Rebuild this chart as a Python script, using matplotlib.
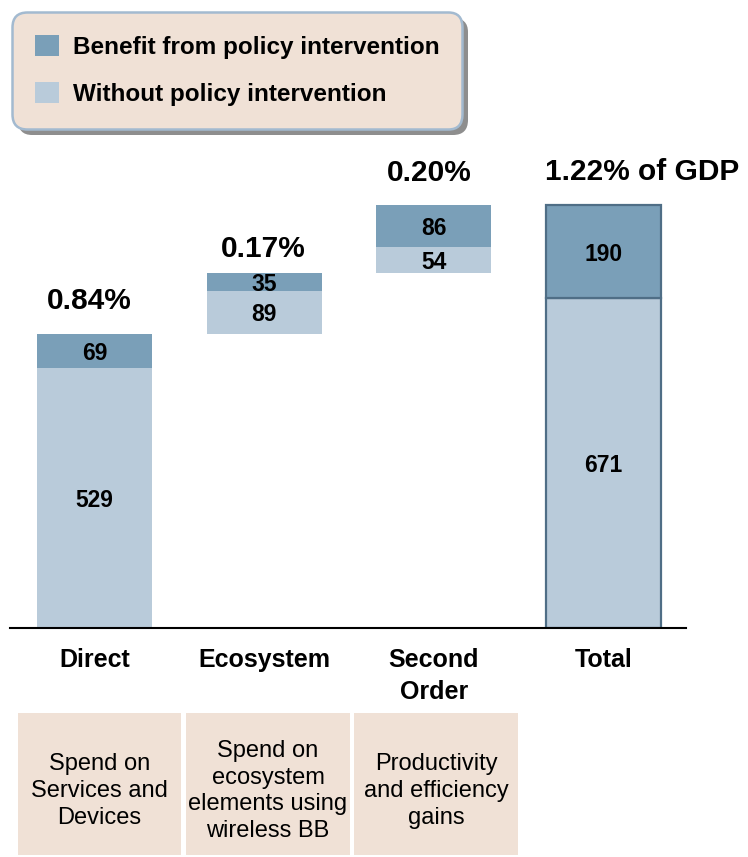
import matplotlib
matplotlib.use("Agg")
import matplotlib.pyplot as plt
from matplotlib.patches import Rectangle
import matplotlib.patheffects as pe
import numpy as np

plt.rcParams['font.family'] = ['Liberation Sans', 'DejaVu Sans']

# Data
categories = ["Direct", "Ecosystem", "Second\nOrder", "Total"]
without_policy = [529, 89, 54, 671]
policy_benefit = [69, 35, 86, 190]
gdp_share = ["0.84%", "0.17%", "0.20%", "1.22% of GDP"]
descriptions = [
    "Spend on\nServices and\nDevices",
    "Spend on\necosystem\nelements using\nwireless BB",
    "Productivity\nand efficiency\ngains",
]
legend_labels = ["Benefit from policy intervention", "Without policy intervention"]

DARK = "#7A9FB8"
LIGHT = "#B9CBDA"
EDGE = "#4F6E86"
BEIGE = "#F0E1D6"

W, H = 748, 857
fig = plt.figure(figsize=(W / 100, H / 100), dpi=100)
fig.patch.set_facecolor("white")

# axes placement in pixels (top-left origin)
ax_left, ax_right, ax_top, ax_base = 10, 686, 140, 627.5
ax = fig.add_axes([ax_left / W, 1 - ax_base / H,
                   (ax_right - ax_left) / W, (ax_base - ax_top) / H])

# waterfall bottoms: components stack on each other, total starts at zero
n = len(categories)
x = np.arange(n)
wo = np.array(without_policy)
bf = np.array(policy_benefit)
bottoms = np.zeros(n)
running = 0
for i in range(n - 1):
    bottoms[i] = running
    running += wo[i] + bf[i]
bottoms[-1] = 0

width = 0.678
edges = ["none"] * (n - 1) + [EDGE]
lws = [0] * (n - 1) + [1.6]
bars_wo = ax.bar(x, wo, width, bottom=bottoms, color=LIGHT,
                 edgecolor=edges, linewidth=lws, label=legend_labels[1], zorder=2)
bars_bf = ax.bar(x, bf, width, bottom=bottoms + wo, color=DARK,
                 edgecolor=edges, linewidth=lws, label=legend_labels[0], zorder=2)

for cont in (bars_wo, bars_bf):
    for t in ax.bar_label(cont, label_type="center", fontsize=16.5,
                          fontweight="bold", color="black"):
        t.set_va("center_baseline")

# share-of-GDP labels above each bar
tops = bottoms + wo + bf
dx_px = [-5, -1, -4, 39]
dy_px = [25, 16, 24, 25]
for i in range(n):
    ax.annotate(gdp_share[i], (x[i], tops[i]),
                xytext=(dx_px[i] * 0.72, dy_px[i] * 0.72), textcoords="offset points",
                ha="center", va="baseline", fontsize=21.5, fontweight="bold",
                annotation_clip=False)

spacing = 169.6
xl = -(94.5 - ax_left) / spacing
ax.set_xlim(xl, xl + (ax_right - ax_left) / spacing)
ax.set_ylim(0, (ax_base - ax_top) / 0.4905)

for s in ("top", "right", "left"):
    ax.spines[s].set_visible(False)
ax.spines["bottom"].set_linewidth(1.5)
ax.spines["bottom"].set_color("black")
ax.set_yticks([])
ax.set_xticks(x, categories)
ax.tick_params(axis="x", length=0, pad=14.5)
for lab in ax.get_xticklabels():
    lab.set_fontsize(18)
    lab.set_fontweight("bold")
    lab.set_linespacing(1.46)
ax.patch.set_alpha(0)

# description boxes under the first three categories
box_x = [(17.7, 181), (186, 350), (354, 518)]
box_y = (713, 855)
for (x0, x1), txt in zip(box_x, descriptions):
    fig.add_artist(Rectangle((x0 / W, 1 - box_y[1] / H), (x1 - x0) / W,
                             (box_y[1] - box_y[0]) / H, transform=fig.transFigure,
                             facecolor=BEIGE, edgecolor="none"))
    fig.text((x0 + x1) / 2 / W, 1 - 791 / H, txt, ha="center", va="center",
             fontsize=17, linespacing=1.27)

# legend
leg = fig.legend(handles=[bars_bf, bars_wo], labels=legend_labels,
                 loc="upper left", bbox_to_anchor=(12 / W, 1 - 12 / H),
                 bbox_transform=fig.transFigure, borderaxespad=0,
                 prop={"size": 17.5, "weight": "bold"}, fancybox=True, shadow=False,
                 handlelength=1.0, handleheight=0.95, handletextpad=0.55,
                 labelspacing=0.95, borderpad=0.95, framealpha=1)
frame = leg.get_frame()
frame.set_facecolor(BEIGE)
frame.set_edgecolor("#A3BAD0")
frame.set_linewidth(1.8)
frame.set_boxstyle("round", pad=0, rounding_size=0.6)
frame.set_path_effects([pe.SimplePatchShadow(offset=(4, -4), shadow_rgbFace="#7A7A7A", alpha=0.85),
                        pe.Normal()])

fig.savefig("out.png", dpi=100)
